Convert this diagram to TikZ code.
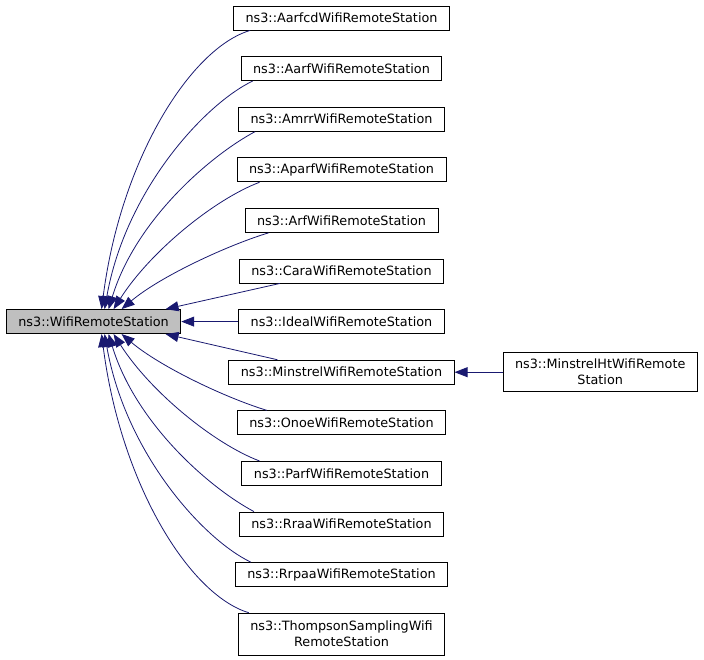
\documentclass[tikz,border=0pt]{standalone}
\usepackage{fontspec}
\setmainfont{DejaVu Sans}
\usetikzlibrary{positioning,arrows.meta}
\definecolor{edgeblue}{RGB}{25,25,112}
\definecolor{rootgray}{RGB}{191,191,191}

\begin{document}
\begin{tikzpicture}[x=1pt,y=-1pt,node distance=25.7pt,
  font=\fontsize{12.8}{16}\selectfont]
   \tikzset{cls/.style = {rectangle, draw, line width=0.9pt, fill=white, inner xsep=12pt, inner ysep=2pt, minimum height=24pt, align=center}, }
   \tikzset{base/.style = {cls, fill=rootgray} }
   \tikzset{inh/.style = {draw=edgeblue, line width=0.8pt, -{Triangle[length=13pt,width=10pt]}} }
   \useasboundingbox (0,0) rectangle (704,660);

   \node[cls] (aarfcd) at (341.5,18) {ns3::AarfcdWifiRemoteStation};
   \node[cls, below =of aarfcd] (aarf) {ns3::AarfWifiRemoteStation};
   \node[cls, below =of aarf] (amrr) {ns3::AmrrWifiRemoteStation};
   \node[cls, below =of amrr] (aparf) {ns3::AparfWifiRemoteStation};
   \node[cls, below =of aparf] (arf) {ns3::ArfWifiRemoteStation};
   \node[cls, below =of arf] (cara) {ns3::CaraWifiRemoteStation};
   \node[cls, below =of cara] (ideal) {ns3::IdealWifiRemoteStation};
   \node[cls, below =of ideal] (minstrel) {ns3::MinstrelWifiRemoteStation};
   \node[cls, below =of minstrel] (onoe) {ns3::OnoeWifiRemoteStation};
   \node[cls, below =of onoe] (parf) {ns3::ParfWifiRemoteStation};
   \node[cls, below =of parf] (rraa) {ns3::RraaWifiRemoteStation};
   \node[cls, below =of rraa] (rrpaa) {ns3::RrpaaWifiRemoteStation};
   \node[cls, below =of rrpaa, minimum height=42pt] (thompson) {ns3::ThompsonSamplingWifi\\RemoteStation};

   \node[base, left =57pt of ideal] (root) {ns3::WifiRemoteStation};
   \node[cls, right =48pt of minstrel, minimum height=39pt] (mht) {ns3::MinstrelHtWifiRemote\\Station};

   % upper children
   \draw[inh] ([xshift=17pt]aarfcd.south west) .. controls +(-60,18) and +(19,-149) .. ([xshift=8pt]root.north);
   \draw[inh] ([xshift=12pt]aarf.south west) .. controls +(-48,23) and +(21,-119) .. ([xshift=11pt]root.north);
   \draw[inh] ([xshift=17pt]amrr.south west) .. controls +(-45,24) and +(27,-89) .. ([xshift=15pt]root.north);
   \draw[inh] ([xshift=23pt]aparf.south west) .. controls +(-45,17) and +(37,-58) .. ([xshift=20pt]root.north);
   \draw[inh] ([xshift=24pt]arf.south west) .. controls +(-40,12) and +(39,-33) .. ([xshift=28pt]root.north);
   \draw[inh] ([xshift=41pt]cara.south west) -- ([xshift=72pt]root.north);
   \draw[inh] (ideal) -- (root);

   % lower children
   \draw[inh] ([xshift=49pt]minstrel.north west) -- ([xshift=72pt]root.south);
   \draw[inh] ([xshift=30pt]onoe.north west) .. controls +(-40,-12) and +(39,33) .. ([xshift=28pt]root.south);
   \draw[inh] ([xshift=18pt]parf.north west) .. controls +(-45,-17) and +(37,58) .. ([xshift=20pt]root.south);
   \draw[inh] ([xshift=15pt]rraa.north west) .. controls +(-45,-24) and +(27,89) .. ([xshift=15pt]root.south);
   \draw[inh] ([xshift=16pt]rrpaa.north west) .. controls +(-48,-23) and +(21,119) .. ([xshift=11pt]root.south);
   \draw[inh] ([xshift=11pt]thompson.north west) .. controls +(-60,-18) and +(19,149) .. ([xshift=8pt]root.south);

   \draw[inh] (mht) -- (minstrel);
\end{tikzpicture}
\end{document}
